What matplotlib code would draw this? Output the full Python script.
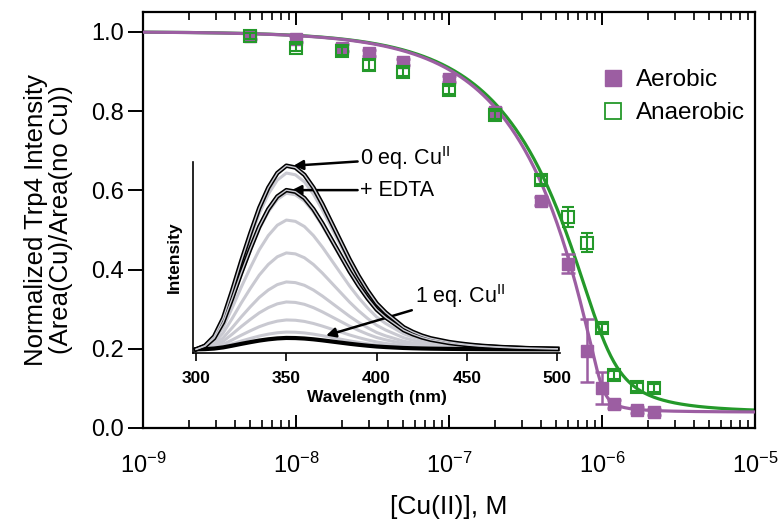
import numpy as np
import matplotlib
matplotlib.use("Agg")
import matplotlib.pyplot as plt
from matplotlib.lines import Line2D

plt.rcParams['font.family'] = ['Liberation Sans', 'DejaVu Sans']
plt.rcParams['mathtext.fontset'] = 'custom'
plt.rcParams['mathtext.rm'] = 'Liberation Sans'
plt.rcParams['mathtext.it'] = 'Liberation Sans:italic'
plt.rcParams['mathtext.bf'] = 'Liberation Sans:bold'

PURPLE = '#9c5ea2'
GREEN = '#24992a'
GRAY = '#c9c9d1'

# titration data: [Cu(II)] in M, normalized Trp4 intensity
cu_conc = [5e-9, 1e-8, 2e-8, 3e-8, 5e-8, 1e-7, 2e-7, 4e-7, 6e-7, 8e-7,
           1e-6, 1.2e-6, 1.7e-6, 2.2e-6]
aerobic = [0.99, 0.982, 0.96, 0.947, 0.924, 0.881, 0.797, 0.572, 0.415, 0.195,
           0.101, 0.061, 0.046, 0.040]
aerobic_err = [0.008, 0.008, 0.008, 0.008, 0.008, 0.008, 0.01, 0.01, 0.025, 0.08,
               0.04, 0.01, 0.008, 0.008]
anaerobic = [0.99, 0.96, 0.952, 0.916, 0.899, 0.853, 0.79, 0.625, 0.532, 0.468,
             0.253, 0.134, 0.104, 0.101]
anaerobic_err = [0.008, 0.008, 0.01, 0.012, 0.01, 0.01, 0.01, 0.01, 0.025, 0.025,
                 0.01, 0.01, 0.01, 0.01]

# tight-binding fit parameters
protein_conc = 1.0e-6
kd_aerobic = 5e-9
kd_anaerobic = 5e-8
fit_bottom = 0.04

# inset: emission spectra
wavelength = list(range(300, 505, 5))
shape_0eq = [0.00, 0.02, 0.07, 0.17, 0.32, 0.48, 0.63, 0.77, 0.88, 0.96,
             1.00, 0.99, 0.95, 0.88, 0.79, 0.69, 0.59, 0.49, 0.40, 0.32,
             0.25, 0.20, 0.16, 0.12, 0.095, 0.075, 0.06, 0.05, 0.04, 0.033,
             0.027, 0.022, 0.018, 0.015, 0.012, 0.01, 0.008, 0.006, 0.005, 0.004, 0.003]
peak_0eq = 1.0
peak_edta = 0.867
peaks_gray = [0.96, 0.85, 0.704, 0.525, 0.367, 0.258, 0.16, 0.094]
peak_1eq = 0.062


def tight_binding(L, P, Kd, bottom):
    a = P + L + Kd
    fb = (a - np.sqrt(a * a - 4 * P * L)) / (2 * P)
    return 1 - (1 - bottom) * fb


fig = plt.figure(figsize=(7.8, 5.25), dpi=100)
ax = fig.add_axes([0.1833, 0.1848, 0.7846, 0.7924])

xfit = np.logspace(-9, -5, 400)
ax.plot(xfit, tight_binding(xfit, protein_conc, kd_anaerobic, fit_bottom),
        color=GREEN, lw=2.3, zorder=2)
ax.plot(xfit, tight_binding(xfit, protein_conc, kd_aerobic, fit_bottom),
        color=PURPLE, lw=2.3, zorder=3)

ax.errorbar(cu_conc, aerobic, yerr=aerobic_err, fmt='s', color=PURPLE, ms=8.5,
            mec=PURPLE, elinewidth=1.8, capsize=5, capthick=1.8, zorder=4)
ax.errorbar(cu_conc, anaerobic, yerr=anaerobic_err, fmt='s', color=GREEN, ms=8,
            mfc='none', mec=GREEN, mew=1.5, elinewidth=1.5, capsize=4, capthick=1.5,
            zorder=5)

ax.set_xscale('log')
ax.set_xlim(1e-9, 1e-5)
ax.set_ylim(0, 1.05)
ax.set_xticks([1e-9, 1e-8, 1e-7, 1e-6, 1e-5])
ax.set_xticklabels(['10$^{-9}$', '10$^{-8}$', '10$^{-7}$', '10$^{-6}$', '10$^{-5}$'])
ax.set_yticks([0, 0.2, 0.4, 0.6, 0.8, 1.0])
ax.set_yticklabels(['0.0', '0.2', '0.4', '0.6', '0.8', '1.0'])
ax.tick_params(axis='x', which='major', direction='in', length=9.5, width=1.4,
               top=True, labelsize=17, pad=18, colors='k')
ax.tick_params(axis='x', which='minor', direction='in', length=6, width=1.2, top=True)
ax.tick_params(axis='y', direction='out', length=10.5, width=1.4, labelsize=17, pad=3)
for s in ax.spines.values():
    s.set_linewidth(1.6)

ax.set_xlabel('[Cu(II)], M', fontsize=19, labelpad=12)
ax.set_ylabel('Normalized Trp4 Intensity\n(Area(Cu)/Area(no Cu))', fontsize=18.5,
              labelpad=13, linespacing=1.05)

handles = [Line2D([], [], marker='s', ls='none', color=PURPLE, ms=11.5),
           Line2D([], [], marker='s', ls='none', color=GREEN, mfc='none', mew=1.3, ms=11.5)]
ax.legend(handles, ['Aerobic', 'Anaerobic'], loc='upper left', bbox_to_anchor=(0.71, 0.915),
          frameon=False, fontsize=17.5, handletextpad=0.4, labelspacing=0.45,
          handlelength=1.1)

# inset spectra
ins = fig.add_axes([0.2474, 0.3276, 0.4705, 0.3638])
ins.patch.set_visible(False)
wl = np.array(wavelength)
shape = np.array(shape_0eq)
for p in peaks_gray:
    ins.plot(wl, p * shape, color=GRAY, lw=2.2, zorder=2)
ins.plot(wl, peak_0eq * shape, color='k', lw=3.2, zorder=3)
ins.plot(wl, peak_0eq * shape, color=GRAY, lw=1.0, zorder=4)
ins.plot(wl, peak_edta * shape, color='k', lw=3.2, zorder=3)
ins.plot(wl, peak_edta * shape, color=GRAY, lw=1.0, zorder=4)
ins.plot(wl, peak_1eq * shape, color='k', lw=3.0, zorder=3)

ins.set_xlim(298.3, 501.5)
ins.set_ylim(-0.02, 1.02)
ins.spines['top'].set_visible(False)
ins.spines['right'].set_visible(False)
ins.spines['left'].set_linewidth(1.2)
ins.spines['bottom'].set_linewidth(1.2)
ins.set_xticks([300, 350, 400, 450, 500])
ins.set_yticks([])
ins.tick_params(axis='x', direction='out', length=6, width=1.2, labelsize=12.5, pad=7)
for t in ins.get_xticklabels():
    t.set_fontweight('bold')
ins.set_xlabel('Wavelength (nm)', fontsize=12.5, fontweight='bold', labelpad=3)
ins.set_ylabel('Intensity', fontsize=12.5, fontweight='bold', labelpad=8)

arrow = dict(arrowstyle='-|>', color='k', lw=1.8, mutation_scale=14, shrinkA=0, shrinkB=0)
ins.annotate('0 eq. Cu$^{\\mathrm{II}}$', xy=(354, 1.0), xytext=(391, 1.04),
             fontsize=15.5, va='center', ha='left', arrowprops=arrow, annotation_clip=False)
ins.annotate('+ EDTA', xy=(353, 0.867), xytext=(391, 0.867),
             fontsize=15.5, va='center', ha='left', arrowprops=arrow, annotation_clip=False)
ins.annotate('1 eq. Cu$^{\\mathrm{II}}$', xy=(372, 0.075), xytext=(421, 0.29),
             fontsize=15.5, va='center', ha='left', arrowprops=arrow, annotation_clip=False)

fig.savefig('out.png', dpi=100)
